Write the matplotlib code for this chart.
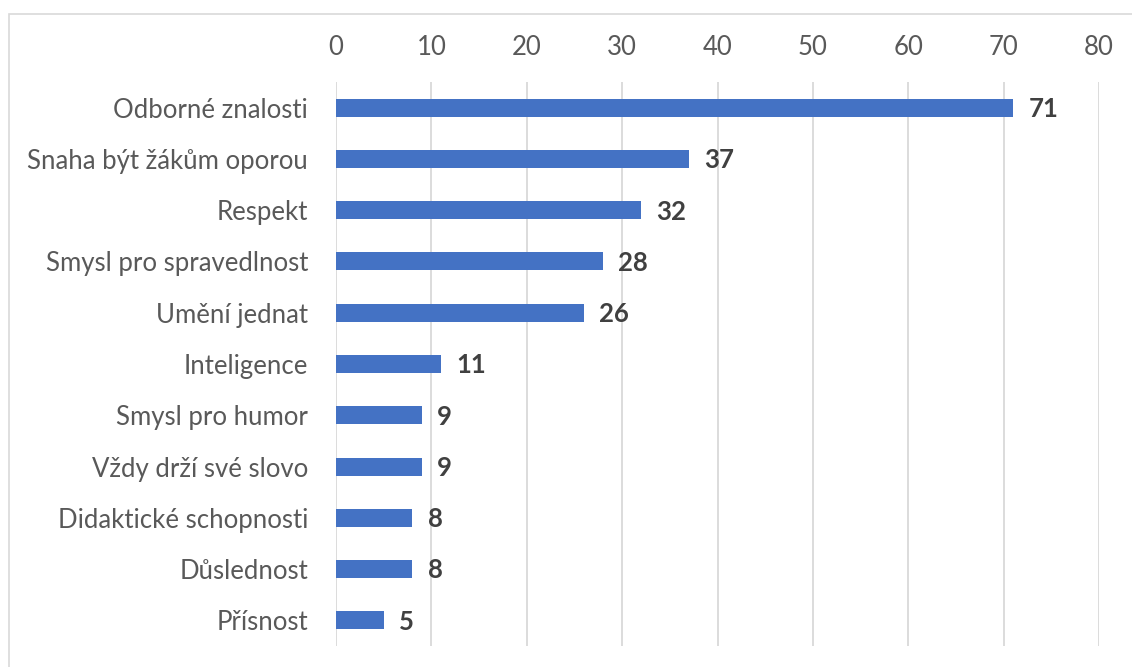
import matplotlib
matplotlib.use("Agg")
import matplotlib.pyplot as plt
from matplotlib.patches import Rectangle

categories = ["Odborné znalosti", "Snaha být žákům oporou", "Respekt",
              "Smysl pro spravedlnost", "Umění jednat", "Inteligence",
              "Smysl pro humor", "Vždy drží své slovo", "Didaktické schopnosti",
              "Důslednost", "Přísnost"]
values = [71, 37, 32, 28, 26, 11, 9, 9, 8, 8, 5]
xticks = [0, 10, 20, 30, 40, 50, 60, 70, 80]

plt.rcParams['font.family'] = ['Lato', 'DejaVu Sans']

fig = plt.figure(figsize=(11.32, 6.67), dpi=100)
# outer chart border
fig.patches.append(Rectangle((9/1132, -0.1), 1.2, (667-14)/667 + 0.1,
                             transform=fig.transFigure, fill=False,
                             edgecolor='#d9d9d9', linewidth=1.2))

ax = fig.add_axes([336/1132, 1-646/667, (1099-336)/1132, (646-82)/667])
y = list(range(len(categories)))
ax.barh(y, values, height=0.35, color='#4472C4', zorder=3)
ax.set_ylim(len(categories)-0.5, -0.5)
ax.set_xlim(0, 80)
ax.set_xticks(xticks)
ax.set_yticks(y)
ax.set_yticklabels(categories)
ax.xaxis.tick_top()
ax.tick_params(axis='x', length=0, pad=16, labelsize=18.5, labelcolor='#595959')
ax.tick_params(axis='y', length=0, pad=20, labelsize=18.5, labelcolor='#595959')
for s in ax.spines.values():
    s.set_visible(False)
ax.grid(axis='x', color='#d9d9d9', linewidth=1.3, zorder=0)
for yi, v in zip(y, values):
    ax.annotate(str(v), (v, yi), xytext=(11, -1), textcoords='offset points',
                ha='left', va='center', fontsize=18.5, fontweight='bold',
                color='#404040')
fig.savefig("out.png", dpi=100)
